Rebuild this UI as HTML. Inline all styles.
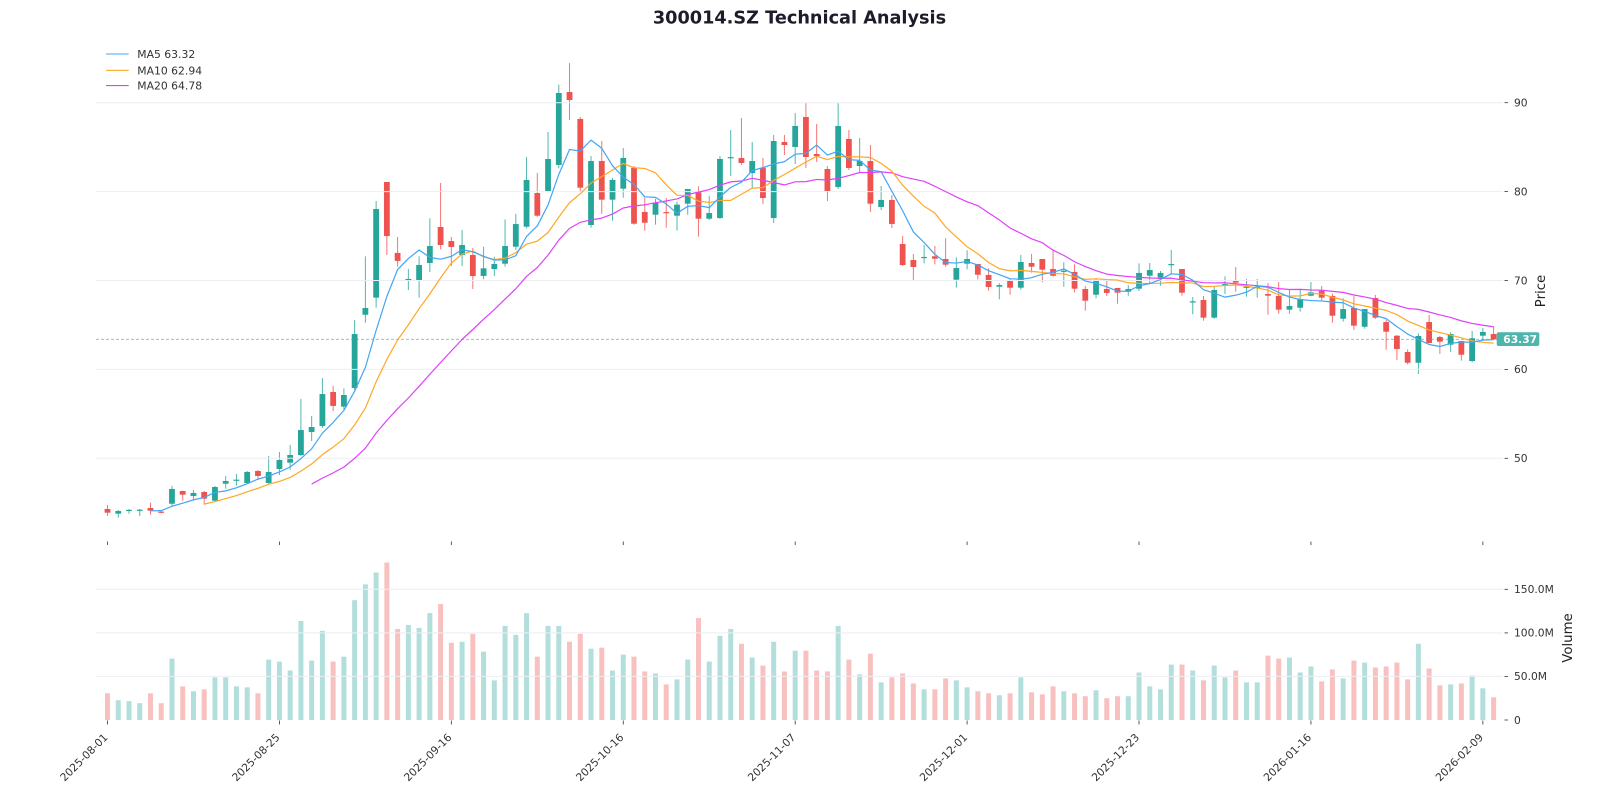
<!DOCTYPE html>
<html><head><meta charset="utf-8">
<style>
html,body{margin:0;padding:0;background:#fff;}
svg{display:block;font-family:"DejaVu Sans","Liberation Sans",sans-serif;}
</style></head><body>
<svg id="s" width="1600" height="800" viewBox="0 0 1600 800" xmlns="http://www.w3.org/2000/svg">
<rect width="1600" height="800" fill="#fff"/>
<g id="vol"></g>
<g id="candles"></g>
<g stroke="#ededf4" stroke-width="1">
<line x1="96" x2="1503" y1="102.7" y2="102.7"/>
<line x1="96" x2="1503" y1="191.6" y2="191.6"/>
<line x1="96" x2="1503" y1="280.5" y2="280.5"/>
<line x1="96" x2="1503" y1="369.4" y2="369.4"/>
<line x1="96" x2="1503" y1="458.3" y2="458.3"/>
<line x1="96" x2="1503" y1="589.3" y2="589.3"/>
<line x1="96" x2="1503" y1="632.9" y2="632.9"/>
<line x1="96" x2="1503" y1="676.4" y2="676.4"/>
</g>
<line x1="96" x2="1497" y1="339.3" y2="339.3" stroke="#26a69a" stroke-opacity="0.65" stroke-width="0.9" stroke-dasharray="3,2"/>
<g id="ma" fill="none" stroke-width="1.2"></g>

<!-- current price tag -->
<rect x="1496.7" y="332.3" width="42.6" height="13.7" rx="2" fill="#4db6ac"/>
<text x="1503.3" y="342.8" font-size="10.7" font-weight="bold" fill="#fff">63.37</text>

<!-- right axis ticks -->
<g stroke="#333" stroke-width="0.8">
<line x1="1504.5" x2="1508" y1="102.7" y2="102.7"/>
<line x1="1504.5" x2="1508" y1="191.6" y2="191.6"/>
<line x1="1504.5" x2="1508" y1="280.5" y2="280.5"/>
<line x1="1504.5" x2="1508" y1="369.4" y2="369.4"/>
<line x1="1504.5" x2="1508" y1="458.3" y2="458.3"/>
<line x1="1504.5" x2="1508" y1="589.3" y2="589.3"/>
<line x1="1504.5" x2="1508" y1="632.9" y2="632.9"/>
<line x1="1504.5" x2="1508" y1="676.4" y2="676.4"/>
<line x1="1504.5" x2="1508" y1="720" y2="720"/>
</g>
<g font-size="10.7" fill="#333">
<text x="1514" y="106.5">90</text>
<text x="1514" y="195.4">80</text>
<text x="1514" y="284.3">70</text>
<text x="1514" y="373.2">60</text>
<text x="1514" y="462.1">50</text>
<text x="1514" y="593.1">150.0M</text>
<text x="1514" y="636.7">100.0M</text>
<text x="1514" y="680.2">50.0M</text>
<text x="1514" y="723.8">0</text>
</g>
<text transform="translate(1545,291) rotate(-90)" text-anchor="middle" font-size="13.3" fill="#222">Price</text>
<text transform="translate(1572,638) rotate(-90)" text-anchor="middle" font-size="13.3" fill="#222">Volume</text>

<!-- x ticks -->
<g id="xt" stroke="#333" stroke-width="0.8"></g>
<g font-size="10.7" fill="#333" text-anchor="end">
<text transform="translate(108.5,738) rotate(-45)">2025-08-01</text>
<text transform="translate(280.4,738) rotate(-45)">2025-08-25</text>
<text transform="translate(452.3,738) rotate(-45)">2025-09-16</text>
<text transform="translate(624.3,738) rotate(-45)">2025-10-16</text>
<text transform="translate(796.2,738) rotate(-45)">2025-11-07</text>
<text transform="translate(968.1,738) rotate(-45)">2025-12-01</text>
<text transform="translate(1140,738) rotate(-45)">2025-12-23</text>
<text transform="translate(1311.9,738) rotate(-45)">2026-01-16</text>
<text transform="translate(1483.9,738) rotate(-45)">2026-02-09</text>
</g>

<!-- legend -->
<line x1="106" x2="128.7" y1="54" y2="54" stroke="#42a5f5" stroke-width="1.1"/>
<line x1="106" x2="128.7" y1="70.3" y2="70.3" stroke="#ffa726" stroke-width="1.1"/>
<line x1="106" x2="128.7" y1="85.6" y2="85.6" stroke="#e040fb" stroke-width="1.1"/>
<g font-size="10.8" fill="#333">
<text x="137.3" y="58.2">MA5 63.32</text>
<text x="137.3" y="74.4">MA10 62.94</text>
<text x="137.3" y="89.6">MA20 64.78</text>
</g>

<!-- title -->
<text x="799.5" y="23.3" text-anchor="middle" font-size="17.7" font-weight="bold" fill="#1c1c2b">300014.SZ Technical Analysis</text>
</svg>
<script>
(function(){
var D=[
[44.30,44.75,43.54,43.88],[43.77,44.18,43.32,44.07],[44.15,44.30,43.77,44.20],[44.18,44.30,43.50,44.22],[44.41,45.00,43.66,44.11],
[44.00,44.18,43.80,43.95],[44.89,46.89,44.56,46.55],[46.32,46.35,45.23,45.91],[45.76,46.44,45.31,46.10],[46.21,46.32,44.78,45.46],
[45.23,46.89,45.12,46.77],[47.14,48.00,46.58,47.45],[47.50,48.23,46.92,47.60],[47.22,48.57,47.11,48.46],[48.57,48.68,47.56,48.01],
[47.22,50.26,47.11,48.46],[48.80,50.71,48.12,49.81],[49.51,51.50,48.72,50.37],[50.37,56.67,50.26,53.18],[52.96,54.76,51.95,53.52],
[53.63,59.03,53.41,57.23],[57.46,58.14,55.32,55.89],[55.81,57.86,55.43,57.12],[57.91,65.56,57.69,63.98],[66.15,72.72,65.25,66.91],
[68.07,78.94,66.94,78.04],[81.08,81.08,72.87,75.00],[73.10,74.90,71.55,72.20],[70.08,71.29,68.93,70.18],[70.05,72.72,68.07,71.74],
[71.97,77.00,70.96,73.88],[76.02,80.97,73.51,73.99],[74.44,74.90,71.63,73.77],[72.87,75.68,71.63,73.99],[72.87,73.65,69.04,70.50],
[70.51,73.80,70.14,71.37],[71.29,72.68,70.51,71.86],[71.89,76.88,71.55,73.88],[73.80,77.48,73.43,76.35],[76.05,83.89,75.87,81.31],
[79.84,82.09,77.18,77.29],[80.07,86.71,79.92,83.67],[83.00,92.03,82.62,91.09],[91.20,94.46,88.05,90.30],[88.17,88.39,79.99,80.44],
[76.24,84.00,75.94,83.44],[83.44,85.69,77.51,79.09],[79.09,81.53,76.73,81.31],[80.33,84.90,79.31,83.78],[82.66,82.88,76.28,76.39],
[77.71,79.31,75.60,76.50],[77.40,79.20,76.28,78.75],[77.70,79.28,75.94,77.62],[77.29,78.87,75.60,78.53],[78.64,80.29,77.40,80.29],
[79.92,80.59,74.93,76.95],[76.95,79.50,76.81,77.59],[77.03,84.00,76.92,83.67],[83.75,86.93,81.76,83.88],[83.78,88.28,82.99,83.22],
[82.09,85.58,80.40,83.44],[82.69,83.78,78.60,79.28],[77.03,86.37,76.47,85.69],[85.58,86.37,84.12,85.24],[85.02,88.84,83.10,87.38],
[88.39,89.97,82.66,83.89],[84.23,87.61,83.33,84.00],[82.54,82.88,78.94,80.07],[80.52,89.97,80.29,87.38],[85.92,86.93,82.43,82.66],
[82.88,86.03,82.21,83.44],[83.44,85.24,77.71,78.64],[78.27,80.64,77.93,79.06],[79.06,79.62,75.91,76.36],[74.11,75.00,71.63,71.74],
[72.31,72.98,70.06,71.52],[72.55,73.99,71.93,72.65],[72.72,73.88,71.82,72.45],[72.42,74.75,71.55,71.78],[70.09,72.61,69.19,71.41],
[71.89,73.40,71.26,72.42],[71.86,71.86,70.13,70.65],[70.62,71.37,68.85,69.27],[69.30,69.69,67.88,69.49],[70.06,70.25,68.40,69.19],
[69.19,72.87,68.97,72.08],[71.97,72.98,70.88,71.55],[72.42,72.42,69.80,71.22],[71.29,73.51,70.43,70.54],[71.00,72.05,69.30,71.10],
[70.96,71.82,68.67,69.08],[69.04,69.38,66.60,67.73],[68.40,70.25,68.00,69.94],[69.04,70.13,68.26,68.60],[69.16,69.16,67.39,68.63],
[68.74,69.49,68.29,69.04],[69.08,71.93,68.82,70.85],[70.54,71.97,69.57,71.18],[70.32,71.07,69.42,70.85],[71.78,73.43,70.73,71.85],
[71.29,71.29,68.29,68.63],[67.58,68.14,66.20,67.66],[67.81,68.26,65.48,65.82],[65.82,69.30,65.70,68.93],[69.52,70.47,68.48,69.60],
[69.94,71.52,68.74,69.75],[69.22,70.17,68.18,69.30],[69.18,70.17,68.07,69.26],[68.48,69.72,66.15,68.29],[68.26,69.83,66.27,66.72],
[66.72,68.93,66.27,67.13],[66.94,68.93,66.49,67.92],[68.29,69.83,68.22,68.67],[68.85,69.38,67.73,68.07],[68.26,68.52,65.25,66.04],
[65.70,68.00,65.37,66.79],[66.91,68.26,64.43,64.92],[64.80,66.79,64.58,66.79],[68.03,68.37,65.70,65.82],[65.33,65.56,62.22,64.24],
[63.79,63.87,61.06,62.29],[61.96,62.26,60.57,60.75],[60.75,64.06,59.48,63.76],[65.33,66.12,62.94,62.97],[63.64,63.76,61.73,63.12],
[62.78,64.17,61.96,63.98],[63.19,63.19,60.98,61.65],[60.94,64.32,60.80,63.50],[63.79,64.66,63.31,64.21],[63.98,64.80,63.31,63.37]
];
var V=[30.7,22.7,21.6,19.3,30.7,19.3,70.5,38.6,33.0,35.2,48.9,48.9,38.6,37.5,30.7,69.3,67.0,56.8,113.6,68.2,
102.3,67.0,72.7,137.5,155.7,169.3,180.7,104.5,109.1,105.7,122.7,133.0,88.6,89.8,98.9,78.4,45.5,108.0,97.7,122.7,
72.7,108.0,108.0,89.8,98.9,81.8,83.0,56.8,75.0,72.7,55.7,53.4,40.9,46.6,69.3,117.0,67.0,96.6,104.5,87.5,
71.6,62.5,89.8,55.7,79.5,79.5,56.8,55.7,108.0,69.3,52.3,76.1,43.2,48.9,53.4,42.0,35.2,35.2,47.7,45.5,
37.5,33.0,30.7,28.4,30.7,48.9,31.8,29.5,38.6,33.0,30.7,27.3,34.1,25.0,27.3,27.3,54.5,38.6,35.2,63.6,
63.6,56.8,45.5,62.5,48.9,56.8,43.2,43.2,73.9,70.5,71.6,54.5,61.4,44.3,58.0,47.7,68.2,65.9,60.2,61.4,
65.9,46.6,87.5,59.1,39.8,40.9,42.0,51.1,36.4,26.1];
function X(i){return 107.5+i*10.745;}
function Y(p){return 458.3-(p-50)*8.89;}
function VY(v){return 720-v*0.8714;}
function f(n){return n.toFixed(2);}
var vs='',cs='';
for(var i=0;i<D.length;i++){
  var d=D[i],up=d[3]>=d[0],x=X(i);
  var vy=VY(V[i]);
  vs+='<rect x="'+f(x-2.5)+'" y="'+f(vy)+'" width="5" height="'+f(720-vy)+'" fill="'+(up?'#b2dfdb':'#f8c1c0')+'"/>';
  var col=up?'#26a69a':'#ef5350';
  cs+='<line x1="'+f(x)+'" x2="'+f(x)+'" y1="'+f(Y(d[1]))+'" y2="'+f(Y(d[2]))+'" stroke="'+col+'" stroke-opacity="0.8" stroke-width="1"/>';
  var t=Y(Math.max(d[0],d[3])),b=Y(Math.min(d[0],d[3])),h=Math.max(1.2,b-t);
  cs+='<rect x="'+f(x-2.9)+'" y="'+f(t)+'" width="5.8" height="'+f(h)+'" fill="'+col+'"/>';
}
document.getElementById('vol').innerHTML=vs;
document.getElementById('candles').innerHTML=cs;
function ma(n,color){
  var pts=[];
  for(var i=n-1;i<D.length;i++){
    var s=0;for(var k=i-n+1;k<=i;k++)s+=D[k][3];
    pts.push(f(X(i))+','+f(Y(s/n)));
  }
  return '<polyline points="'+pts.join(' ')+'" stroke="'+color+'" stroke-linejoin="round"/>';
}
document.getElementById('ma').innerHTML=ma(20,'#e040fb')+ma(10,'#ffa726')+ma(5,'#42a5f5');
var xt='';
for(var j=0;j<=8;j++){
  var xx=f(X(j*16));
  xt+='<line x1="'+xx+'" x2="'+xx+'" y1="541.5" y2="545"/>';
  xt+='<line x1="'+xx+'" x2="'+xx+'" y1="720.5" y2="724.5"/>';
}
document.getElementById('xt').innerHTML=xt;
})();
</script>
</body></html>
